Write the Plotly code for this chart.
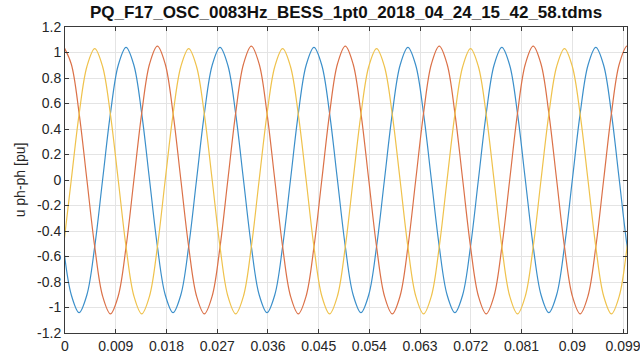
import plotly.graph_objects as go

# Sample times [s] for the three line-to-line voltages
t = [
    -0.000278, 0.001111,
    0.002500, 0.003889, 0.005278, 0.006667, 0.008056, 0.009444,
    0.010833, 0.012222, 0.013611, 0.015000, 0.016389, 0.017778,
    0.019167, 0.020556, 0.021944, 0.023333, 0.024722, 0.026111,
    0.027500, 0.028889, 0.030278, 0.031667, 0.033056, 0.034444,
    0.035833, 0.037222, 0.038611, 0.040000, 0.041389, 0.042778,
    0.044167, 0.045556, 0.046944, 0.048333, 0.049722, 0.051111,
    0.052500, 0.053889, 0.055278, 0.056667, 0.058056, 0.059444,
    0.060833, 0.062222, 0.063611, 0.065000, 0.066389, 0.067778,
    0.069167, 0.070556, 0.071944, 0.073333, 0.074722, 0.076111,
    0.077500, 0.078889, 0.080278, 0.081667, 0.083056, 0.084444,
    0.085833, 0.087222, 0.088611, 0.090000, 0.091389, 0.092778,
    0.094167, 0.095556, 0.096944, 0.098333, 0.099722, 0.101111,
]

# u_ab [pu]
u_ab = [
    -0.52, -0.90,
    -1.04, -0.90, -0.52, 0.00, 0.52, 0.90, 1.04, 0.90, 0.52, 0.00, -0.52, -0.90,
    -1.04, -0.90, -0.52, 0.00, 0.52, 0.90, 1.04, 0.90, 0.52, 0.00, -0.52, -0.90,
    -1.04, -0.90, -0.52, 0.00, 0.52, 0.90, 1.04, 0.90, 0.52, 0.00, -0.52, -0.90,
    -1.04, -0.90, -0.52, 0.00, 0.52, 0.90, 1.04, 0.90, 0.52, 0.00, -0.52, -0.90,
    -1.04, -0.90, -0.52, 0.00, 0.52, 0.90, 1.04, 0.90, 0.52, 0.00, -0.52, -0.90,
    -1.04, -0.90, -0.52, 0.00, 0.52, 0.90, 1.04, 0.90, 0.52, 0.00, -0.52, -0.90,
]

# u_bc [pu]
u_bc = [
    1.05, 0.91,
    0.525, 0.00, -0.525, -0.91, -1.05, -0.91, -0.525, 0.00, 0.525, 0.91, 1.05, 0.91,
    0.525, 0.00, -0.525, -0.91, -1.05, -0.91, -0.525, 0.00, 0.525, 0.91, 1.05, 0.91,
    0.525, 0.00, -0.525, -0.91, -1.05, -0.91, -0.525, 0.00, 0.525, 0.91, 1.05, 0.91,
    0.525, 0.00, -0.525, -0.91, -1.05, -0.91, -0.525, 0.00, 0.525, 0.91, 1.05, 0.91,
    0.525, 0.00, -0.525, -0.91, -1.05, -0.91, -0.525, 0.00, 0.525, 0.91, 1.05, 0.91,
    0.525, 0.00, -0.525, -0.91, -1.05, -0.91, -0.525, 0.00, 0.525, 0.91, 1.05, 0.91,
]

# u_ca [pu]
u_ca = [
    -0.525, 0.00,
    0.515, 0.89, 1.03, 0.89, 0.515, 0.00, -0.525, -0.91, -1.05, -0.91, -0.525, 0.00,
    0.515, 0.89, 1.03, 0.89, 0.515, 0.00, -0.525, -0.91, -1.05, -0.91, -0.525, 0.00,
    0.515, 0.89, 1.03, 0.89, 0.515, 0.00, -0.525, -0.91, -1.05, -0.91, -0.525, 0.00,
    0.515, 0.89, 1.03, 0.89, 0.515, 0.00, -0.525, -0.91, -1.05, -0.91, -0.525, 0.00,
    0.515, 0.89, 1.03, 0.89, 0.515, 0.00, -0.525, -0.91, -1.05, -0.91, -0.525, 0.00,
    0.515, 0.89, 1.03, 0.89, 0.515, 0.00, -0.525, -0.91, -1.05, -0.91, -0.525, 0.00,
]

x_ticks = [0, 0.009, 0.018, 0.027, 0.036, 0.045, 0.054, 0.063, 0.072, 0.081, 0.09, 0.099]
x_labels = ["0", "0.009", "0.018", "0.027", "0.036", "0.045", "0.054",
            "0.063", "0.072", "0.081", "0.09", "0.099"]
y_ticks = [-1.2, -1.0, -0.8, -0.6, -0.4, -0.2, 0, 0.2, 0.4, 0.6, 0.8, 1.0, 1.2]
y_labels = ["-1.2", "-1", "-0.8", "-0.6", "-0.4", "-0.2", "0",
            "0.2", "0.4", "0.6", "0.8", "1", "1.2"]

series = [("u_ab", u_ab, "#3b8fca"), ("u_bc", u_bc, "#db7148"), ("u_ca", u_ca, "#efc24c")]

FONT = "Liberation Sans, Arial, sans-serif"
AX = "#3a3a3a"

fig = go.Figure()
for name, y, color in series:
    fig.add_trace(go.Scatter(
        x=t, y=y, name=name, mode="lines",
        line=dict(color=color, width=1.2, shape="spline", smoothing=1.0),
    ))

axis_common = dict(
    showline=True, linecolor=AX, linewidth=1, mirror="allticks",
    ticks="inside", ticklen=4, tickcolor=AX, tickwidth=1,
    showgrid=True, gridcolor="#e4e4e4", gridwidth=1, zeroline=False,
    tickfont=dict(family=FONT, size=14, color="#262626"),
    ticklabeloverflow="allow",
)

fig.update_xaxes(range=[0, 0.0997], tickmode="array", tickvals=x_ticks, ticktext=x_labels,
                 **axis_common)
fig.update_yaxes(range=[-1.2, 1.2], tickmode="array", tickvals=y_ticks, ticktext=y_labels,
                 title=dict(text="u ph-ph [pu]", font=dict(family=FONT, size=14, color="#262626"),
                            standoff=8),
                 **axis_common)

fig.update_layout(
    width=640, height=360,
    margin=dict(l=65, r=13, t=27, b=27, autoexpand=False),
    paper_bgcolor="white", plot_bgcolor="white",
    showlegend=False,
    title=dict(text="<b>PQ_F17_OSC_0083Hz_BESS_1pt0_2018_04_24_15_42_58.tdms</b>",
               x=0.5, xref="paper", xanchor="center",
               y=1 - 12 / 360, yref="container", yanchor="middle",
               font=dict(family=FONT, size=17, color="#111111")),
)

fig.write_html("out.html")
